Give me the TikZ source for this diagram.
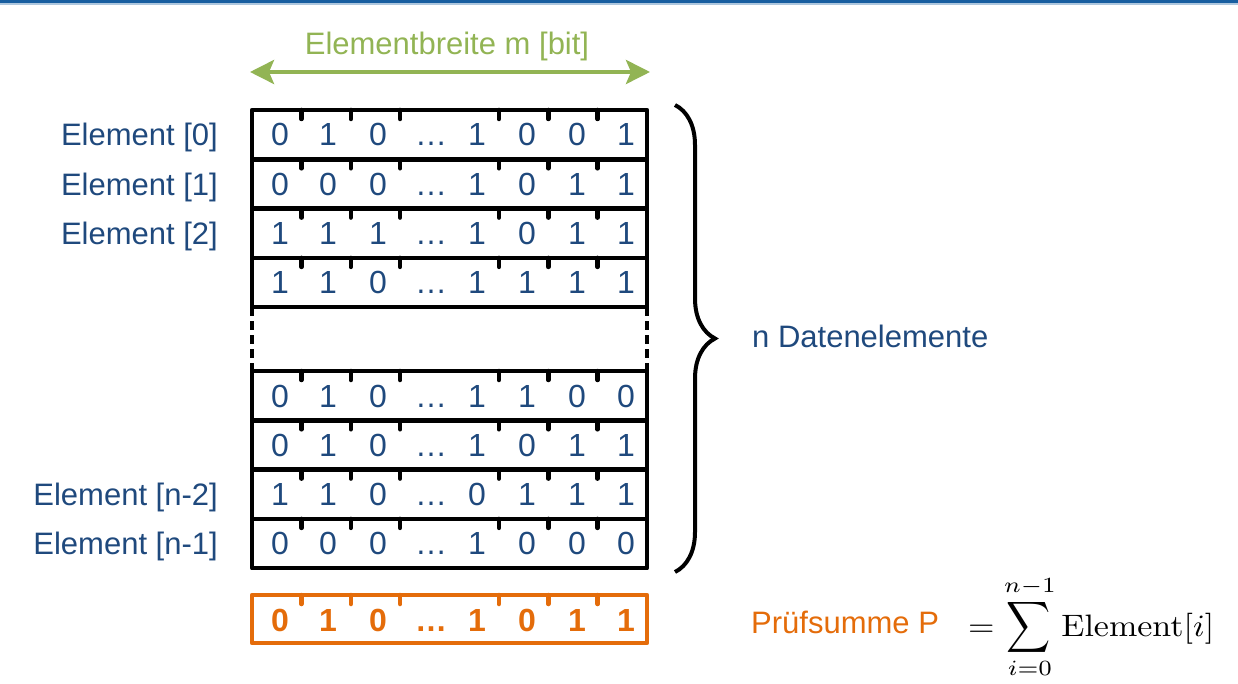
\documentclass[tikz,border=0pt]{standalone}
\usepackage[no-math]{fontspec}
\setmainfont{Liberation Sans}
\usepackage{graphicx}
\usepackage{tikz}
\usetikzlibrary{arrows.meta,decorations.pathreplacing}

\definecolor{txtblue}{RGB}{31,73,125}
\definecolor{widthgreen}{RGB}{146,180,84}
\definecolor{sumorange}{RGB}{228,108,10}
\definecolor{barblue}{RGB}{24,94,160}

\begin{document}
\begin{tikzpicture}[x=1pt,y=-1pt,
		rowbox/.style={line width=4.5pt,line join=round},
		bittick/.style={line width=4.5pt,line cap=round},
		bitnum/.style={text=txtblue,font=\fontsize{32}{38}\selectfont,anchor=base,inner sep=0pt},
		elemlabel/.style={text=txtblue,font=\fontsize{31}{37}\selectfont,anchor=base east,inner sep=0pt}]
		\useasboundingbox (0,0) rectangle (1238,684);
		% blue bar on top
		\fill[barblue] (0,0) rectangle (1238,3.5);
		\fill[barblue!35] (0,3.5) rectangle (1238,5);
		% element width
		\coordinate (wl) at (250,72);
		\coordinate (wr) at (650,72);
		\draw[widthgreen,line width=4pt,{Stealth[length=24pt,width=24pt,inset=5pt]}-{Stealth[length=24pt,width=24pt,inset=5pt]}] (wl) -- (wr);
		\node[text=widthgreen,font=\fontsize{31}{37}\selectfont,inner sep=0pt] (wlabel) at (447,46) {Elementbreite m [bit]};
		% data rows
		\foreach \r/\top/\bits in {0/110/{0,1,0,\dots,1,0,0,1},1/159.3/{0,0,0,\dots,1,0,1,1},2/208.6/{1,1,1,\dots,1,0,1,1},3/257.9/{1,1,0,\dots,1,1,1,1},4/371/{0,1,0,\dots,1,1,0,0},5/420.3/{0,1,0,\dots,1,0,1,1},6/469.6/{1,1,0,\dots,0,1,1,1},7/518.9/{0,0,0,\dots,1,0,0,0}} {
			\draw[rowbox] (252,\top) rectangle (647,\top+49.3);
			\foreach \tx in {301.4,350.75,400.1,498.9,548.25,597.6}
				\draw[bittick] (\tx,\top) -- (\tx,\top+9);
			\foreach \bit [count=\c] in \bits {
				\pgfmathsetmacro\cx{{280,328,378,431,477,527,577,626}[\c-1]}
				\node[bitnum] (r\r c\c) at (\cx,\top+36) {\bit};
			}
		}
		% gap between the rows
		\draw[line width=4.5pt,dash pattern=on 9pt off 5pt] (252,307.2) -- (252,371);
		\draw[line width=4.5pt,dash pattern=on 9pt off 5pt] (647,307.2) -- (647,371);
		% element labels
		\node[elemlabel] (e0) at (218,146) {Element [0]};
		\node[elemlabel] (e1) at (218,195.3) {Element [1]};
		\node[elemlabel] (e2) at (218,244.6) {Element [2]};
		\node[elemlabel] (en2) at (218,505.6) {Element [n-2]};
		\node[elemlabel] (en1) at (218,554.9) {Element [n-1]};
		% brace
		\coordinate (bt) at (675,105);
		\coordinate (bb) at (675,572);
		\draw[line width=4pt,decorate,decoration={brace,amplitude=40pt,aspect=0.5}] (bt) -- (bb);
		\node[text=txtblue,font=\fontsize{31}{37}\selectfont,anchor=base west,inner sep=0pt] (ndata) at (752,347) {n Datenelemente};
		% checksum
		\draw[rowbox,sumorange] (252,595) rectangle (647,643);
		\foreach \tx in {301.4,350.75,400.1,498.9,548.25,597.6}
			\draw[bittick,sumorange] (\tx,595) -- (\tx,604);
		\foreach \bit [count=\c] in {0,1,0,\dots,1,0,1,1} {
			\pgfmathsetmacro\cx{{280,328,378,431,477,527,577,626}[\c-1]}
			\node[bitnum,text=sumorange,font=\fontsize{32}{38}\selectfont\bfseries] (p\c) at (\cx,631) {\bit};
		}
		\node[text=sumorange,font=\fontsize{31}{37}\selectfont,anchor=base west,inner sep=0pt] (psum) at (751,633) {Prüfsumme P};
		\node[anchor=base west,inner sep=0pt] (formula) at (968,636) {\scalebox{3.4}[3.1]{$\displaystyle =\mathop{\scalebox{0.9}[1.15]{$\displaystyle\sum$}}\limits_{i=0}^{n-1}\mathrm{Element}[i]$}};
	\end{tikzpicture}
\end{document}
